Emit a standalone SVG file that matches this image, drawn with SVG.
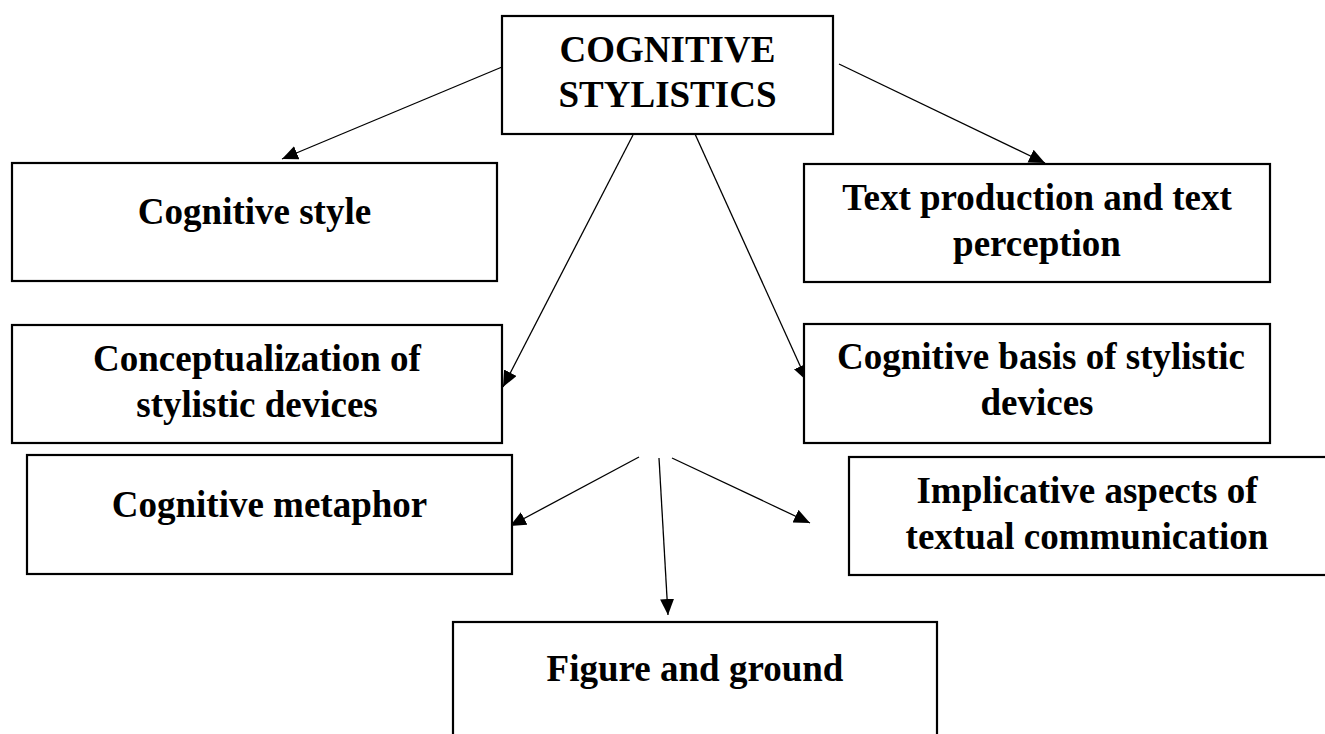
<svg xmlns="http://www.w3.org/2000/svg" width="1325" height="734" viewBox="0 0 1325 734">
<style>
.box{fill:#fff;stroke:#000;stroke-width:2.2}
.lbl{font-family:"Liberation Serif","Times New Roman",serif;font-weight:bold;font-size:37px;fill:#000;text-anchor:middle}
.conn{stroke:#000;stroke-width:1.3;fill:none;marker-end:url(#ah)}
</style>
<defs>
<marker id="ah" markerUnits="userSpaceOnUse" markerWidth="18" markerHeight="16" refX="16" refY="7" orient="auto">
<path d="M0,0 L16,7 L0,14 Z" fill="#000"/>
</marker>
</defs>
<rect width="1325" height="734" fill="#fff"/>
<g id="connectors">
<line class="conn" x1="502" y1="67" x2="282" y2="159"/>
<line class="conn" x1="839" y1="64" x2="1045" y2="163"/>
<line class="conn" x1="633" y1="135" x2="503" y2="387"/>
<line class="conn" x1="695" y1="134" x2="807" y2="381"/>
<line class="conn" x1="639" y1="457" x2="510" y2="526"/>
<line class="conn" x1="659" y1="458" x2="668" y2="615"/>
<line class="conn" x1="672" y1="458" x2="810" y2="523"/>
</g>
<g id="n-cognitive-stylistics">
<rect class="box" x="502" y="16" width="331" height="118"/>
<text class="lbl" x="667.5" y="62">COGNITIVE</text>
<text class="lbl" x="667.5" y="107">STYLISTICS</text>
</g>
<g id="n-cognitive-style">
<rect class="box" x="12" y="163" width="485" height="118"/>
<text class="lbl" x="254.5" y="224">Cognitive style</text>
</g>
<g id="n-text-production">
<rect class="box" x="804" y="164" width="466" height="118"/>
<text class="lbl" x="1037" y="210">Text production and text</text>
<text class="lbl" x="1037" y="256">perception</text>
</g>
<g id="n-conceptualization">
<rect class="box" x="12" y="325" width="490" height="118"/>
<text class="lbl" x="257" y="371">Conceptualization of</text>
<text class="lbl" x="257" y="417">stylistic devices</text>
</g>
<g id="n-cognitive-basis">
<rect class="box" x="804" y="324" width="466" height="119"/>
<text class="lbl" x="1041" y="369">Cognitive basis of stylistic</text>
<text class="lbl" x="1037" y="415">devices</text>
</g>
<g id="n-cognitive-metaphor">
<rect class="box" x="27" y="455" width="485" height="119"/>
<text class="lbl" x="269.5" y="517">Cognitive metaphor</text>
</g>
<g id="n-implicative">
<rect class="box" x="849" y="457" width="480" height="118"/>
<text class="lbl" x="1087" y="503">Implicative aspects of</text>
<text class="lbl" x="1087" y="549">textual communication</text>
</g>
<g id="n-figure-ground">
<rect class="box" x="453" y="622" width="484" height="130"/>
<text class="lbl" x="695" y="681">Figure and ground</text>
</g>
</svg>
